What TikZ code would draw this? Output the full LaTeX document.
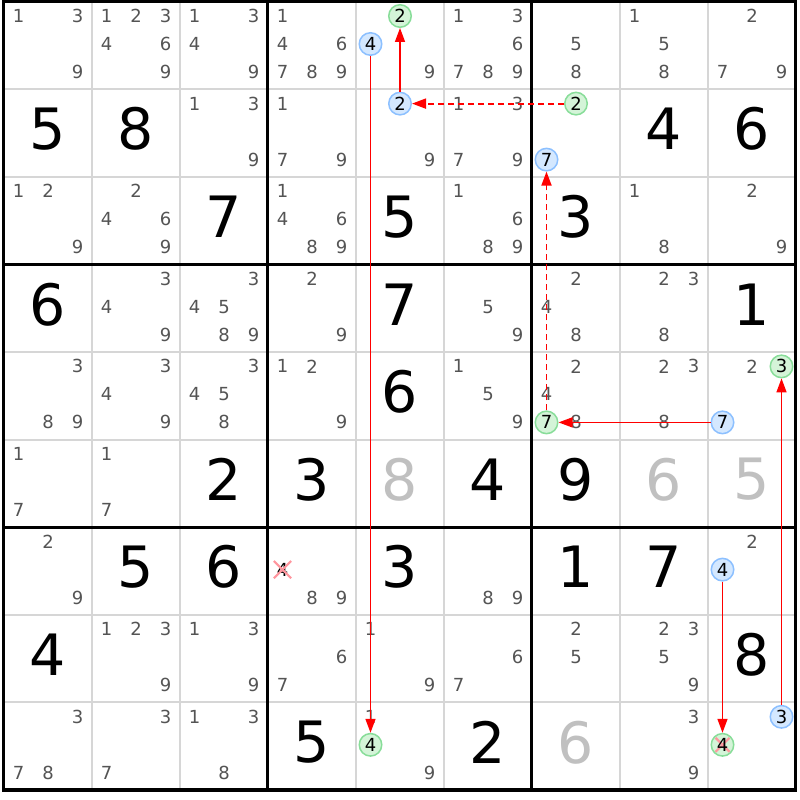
\documentclass[tikz,border=0pt]{standalone}
\usepackage{fontspec}
\usetikzlibrary{arrows.meta,shapes.misc}
\newfontfamily\sudokufont{DejaVu Sans}
\definecolor{candgray}{RGB}{84,84,84}
\definecolor{solvedgray}{RGB}{192,192,192}
\definecolor{gridgray}{RGB}{214,214,214}
\definecolor{bluefill}{RGB}{212,232,255}
\definecolor{blueline}{RGB}{140,192,255}
\definecolor{greenfill}{RGB}{212,244,216}
\definecolor{greenline}{RGB}{136,221,153}
\definecolor{xpink}{RGB}{255,150,158}
\definecolor{linkred}{RGB}{255,0,0}
\begin{document}
\begin{tikzpicture}[x=1pt,y=-1pt]
\tikzstyle{cand} = [font=\sudokufont\fontsize{18}{18}\selectfont, text=candgray, inner sep=0pt]
\tikzstyle{given} = [font=\sudokufont\fontsize{57}{57}\selectfont, text=black, inner sep=0pt]
\tikzstyle{solved} = [given, text=solvedgray]
\tikzstyle{bcand} = [cand, text=black, circle, draw=blueline, fill=bluefill, line width=1.5pt, minimum size=22.5pt]
\tikzstyle{gcand} = [bcand, draw=greenline, fill=greenfill]
\tikzstyle{elim} = [cand, text=black, cross out, draw=xpink, line width=2.2pt, minimum size=15pt]
\tikzstyle{gelim} = [gcand, path picture={\draw[xpink, line width=2.2pt] ([shift={(-7pt,-7pt)}]path picture bounding box.center) -- ([shift={(7pt,7pt)}]path picture bounding box.center) ([shift={(-7pt,7pt)}]path picture bounding box.center) -- ([shift={(7pt,-7pt)}]path picture bounding box.center);}]
\tikzstyle{thinline} = [gridgray, line width=2pt]
\tikzstyle{boxline} = [black, line width=3pt]
\tikzstyle{stronglink} = [draw=linkred, line width=1.5pt, ->, >={Triangle[length=14pt,width=10pt]}]
\tikzstyle{weaklink} = [stronglink, line width=1.8pt, dash pattern=on 6pt off 4pt]

\fill[white] (0,0) rectangle (800,800);
\useasboundingbox (0,0) rectangle (800,800);

% grid
\foreach \i in {1,...,8} {
  \draw[thinline] ({3.5+88*\i},1.5) -- ({3.5+88*\i},789.9);
  \draw[thinline] (3.5,{1.5+87.6*\i}) -- (795.5,{1.5+87.6*\i});
}
\foreach \i in {3,6} {
  \draw[boxline] ({3.5+88*\i},1.5) -- ({3.5+88*\i},789.9);
  \draw[boxline] (3.5,{1.5+87.6*\i}) -- (795.5,{1.5+87.6*\i});
}
\draw[boxline, line width=3.5pt] (3.5,1.5) rectangle (795.5,789.9);

% given and solved digits
\foreach \r/\c/\v in {2/1/5, 2/2/8, 2/8/4, 2/9/6, 3/3/7, 3/5/5, 3/7/3, 4/1/6, 4/5/7, 4/9/1,
    5/5/6, 6/3/2, 6/4/3, 6/6/4, 6/7/9, 7/2/5, 7/3/6, 7/5/3, 7/7/1, 7/8/7, 8/1/4, 8/9/8, 9/4/5, 9/6/2}
  \node[given] (v\r\c) at ({3.5+88*(\c-1)+44.5},{1.5+87.6*(\r-1)+40}) {\v};
\foreach \r/\c/\v in {6/5/8, 6/8/6, 6/9/5, 9/7/6}
  \node[solved] (v\r\c) at ({3.5+88*(\c-1)+44.5},{1.5+87.6*(\r-1)+40}) {\v};

% candidates
\foreach \r/\c/\L in {1/1/{1,3,9}, 1/2/{1,2,3,4,6,9}, 1/3/{1,3,4,9}, 1/4/{1,4,6,7,8,9}, 1/5/{9},
    1/6/{1,3,6,7,8,9}, 1/7/{5,8}, 1/8/{1,5,8}, 1/9/{2,7,9},
    2/3/{1,3,9}, 2/4/{1,7,9}, 2/5/{9}, 2/6/{1,3,7,9},
    3/1/{1,2,9}, 3/2/{2,4,6,9}, 3/4/{1,4,6,8,9}, 3/6/{1,6,8,9}, 3/8/{1,8}, 3/9/{2,9},
    4/2/{3,4,9}, 4/3/{3,4,5,8,9}, 4/4/{2,9}, 4/6/{5,9}, 4/7/{2,4,8}, 4/8/{2,3,8},
    5/1/{3,8,9}, 5/2/{3,4,9}, 5/3/{3,4,5,8}, 5/4/{1,2,9}, 5/6/{1,5,9}, 5/7/{2,4,8}, 5/8/{2,3,8}, 5/9/{2},
    6/1/{1,7}, 6/2/{1,7},
    7/1/{2,9}, 7/4/{8,9}, 7/6/{8,9}, 7/9/{2},
    8/2/{1,2,3,9}, 8/3/{1,3,9}, 8/4/{6,7}, 8/5/{1,9}, 8/6/{6,7}, 8/7/{2,5}, 8/8/{2,3,5,9},
    9/1/{3,7,8}, 9/2/{3,7}, 9/3/{1,3,8}, 9/5/{1,9}, 9/8/{3,9}}
  \foreach \d in \L
    \node[cand] (k\r\c\d) at ({3.5+88*(\c-1)+15+29.5*mod(\d-1,3)},{1.5+87.6*(\r-1)+14.5+28*floor((\d-1)/3)}) {\d};

% marked candidates
\foreach \r/\c/\d/\s in {1/5/2/gcand, 1/5/4/bcand, 2/5/2/bcand, 2/7/2/gcand, 2/7/7/bcand,
    5/7/7/gcand, 5/9/3/gcand, 5/9/7/bcand, 7/4/4/elim, 7/9/4/bcand,
    9/5/4/gcand, 9/9/3/bcand, 9/9/4/gelim}
  \node[\s] (k\r\c\d) at ({3.5+88*(\c-1)+15+29.5*mod(\d-1,3)},{1.5+87.6*(\r-1)+14.5+28*floor((\d-1)/3)}) {\d};

% chain
\draw[stronglink] (k154) -- (k954);
\draw[stronglink] (k252) -- (k152);
\draw[weaklink] (k272) -- (k252);
\draw[weaklink] (k577) -- (k277);
\draw[stronglink] (k597) -- (k577);
\draw[stronglink] (k993) -- (k593);
\draw[stronglink] (k794) -- (k994);
\end{tikzpicture}
\end{document}
